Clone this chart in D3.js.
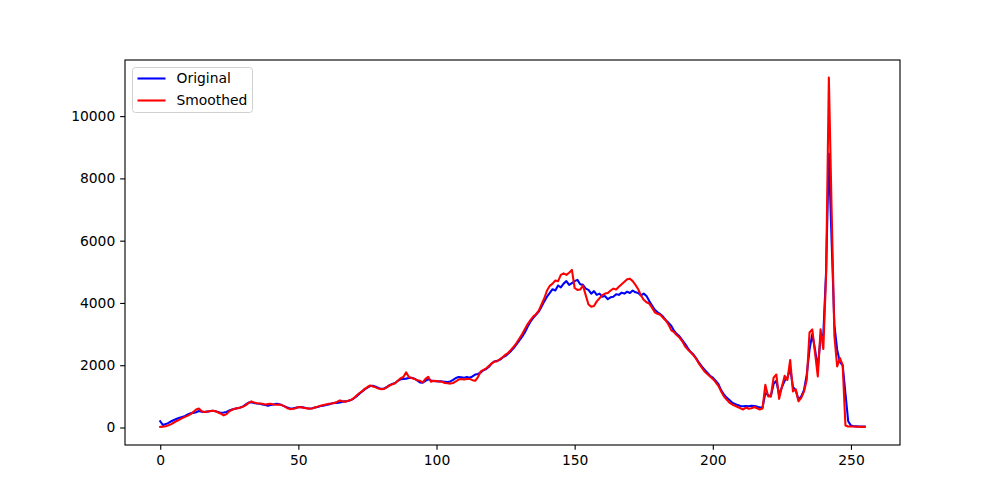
<!DOCTYPE html>
<html>
<head>
<meta charset="utf-8">
<script src="https://cdn.jsdelivr.net/npm/d3@7"></script>
<style>
  body { margin: 0; background: #fff; }
  svg { font-family: "DejaVu Sans", sans-serif; }
</style>
</head>
<body>
<div id="chart"></div>
<script>

// histogram values, one per bin 0..255
const original = [
  200, 80, 110, 150, 200, 240, 280, 310, 340, 370,
  420, 460, 470, 490, 530, 510, 500, 510, 520, 540,
  520, 500, 470, 480, 500, 550, 580, 600, 620, 640,
  680, 740, 800, 810, 790, 770, 760, 740, 720, 700,
  720, 740, 760, 750, 720, 680, 640, 610, 610, 630,
  650, 660, 640, 620, 610, 620, 640, 660, 690, 700,
  720, 740, 770, 790, 790, 800, 830, 840, 850, 880,
  930, 1000, 1080, 1150, 1220, 1280, 1330, 1340, 1310, 1270,
  1240, 1250, 1300, 1360, 1400, 1430, 1500, 1550, 1560, 1570,
  1590, 1600, 1570, 1510, 1450, 1440, 1500, 1550, 1510, 1490,
  1490, 1480, 1480, 1470, 1460, 1480, 1530, 1590, 1620, 1610,
  1600, 1620, 1600, 1640, 1700, 1720, 1770, 1840, 1880, 1950,
  2060, 2120, 2140, 2180, 2250, 2300, 2380, 2460, 2560, 2680,
  2800, 2920, 3060, 3240, 3400, 3520, 3620, 3720, 3880, 4050,
  4200, 4320, 4440, 4400, 4560, 4500, 4620, 4700, 4580, 4640,
  4700, 4740, 4600, 4580, 4460, 4420, 4300, 4380, 4260, 4300,
  4200, 4220, 4120, 4180, 4200, 4280, 4260, 4330, 4300, 4360,
  4320, 4400, 4340, 4320, 4240, 4300, 4220, 4060, 3920, 3780,
  3700, 3640, 3560, 3440, 3360, 3260, 3100, 3000, 2920, 2800,
  2680, 2540, 2420, 2340, 2220, 2080, 1960, 1860, 1760, 1660,
  1600, 1500, 1400, 1200, 1060, 960, 880, 800, 760, 720,
  690, 680, 690, 680, 700, 690, 670, 640, 650, 1100,
  1050, 1000, 1400, 1500, 1050, 1300, 1500, 1600, 1900, 1300,
  1200, 900, 1000, 1200, 1700, 2500, 3000, 2500, 1900, 2900,
  3000, 5000, 8800, 6000, 3300, 2500, 2100, 2000, 1100, 200,
  60, 40, 35, 30, 30, 30
];

const smoothed = [
  20, 25, 40, 70, 110, 160, 210, 255, 300, 340,
  380, 430, 500, 580, 610, 520, 500, 510, 530, 540,
  520, 480, 440, 390, 430, 520, 570, 600, 620, 640,
  670, 720, 790, 840, 800, 780, 770, 760, 740, 750,
  760, 740, 730, 740, 720, 680, 620, 590, 600, 620,
  660, 650, 630, 620, 600, 610, 640, 670, 700, 720,
  740, 760, 770, 790, 820, 870, 840, 830, 860, 880,
  940, 1020, 1100, 1160, 1240, 1300, 1350, 1320, 1290, 1250,
  1230, 1240, 1290, 1350, 1390, 1420, 1500, 1580, 1620, 1770,
  1620, 1590, 1560, 1520, 1500, 1450, 1560, 1630, 1470, 1500,
  1490, 1480, 1470, 1430, 1420, 1410, 1430, 1480, 1540, 1560,
  1540, 1560, 1560, 1520, 1500, 1620, 1800, 1850, 1900, 1980,
  2060, 2120, 2130, 2200, 2260, 2340, 2400, 2500, 2600, 2720,
  2860, 3000, 3160, 3320, 3450, 3560, 3640, 3750, 3950, 4150,
  4400, 4550, 4620, 4720, 4700, 4900, 4950, 4900, 4970, 5060,
  4480, 4420, 4430, 4560, 4250, 3950, 3880, 3900, 4050, 4150,
  4250, 4300, 4320, 4400, 4460, 4430, 4520, 4600, 4680, 4760,
  4780, 4700, 4580, 4440, 4240, 4100, 4020, 3980, 3850, 3700,
  3650, 3620, 3520, 3440, 3300, 3120, 3060, 2960, 2880, 2760,
  2600, 2500, 2420, 2320, 2200, 2050, 1920, 1800, 1720, 1640,
  1560, 1460, 1340, 1160, 1000, 900, 800, 740, 700, 660,
  620, 580, 640, 600, 620, 660, 620, 580, 610, 1370,
  1000, 1000, 1600, 1700, 920, 1300, 1660, 1530, 2170, 1160,
  1230, 840, 950, 1150, 1530, 3050, 3150, 2400, 1640, 3150,
  2520, 4900, 11240, 7000, 2950, 1960, 2230, 2000, 64, 30,
  30, 30, 25, 25, 20, 20
];

const seriesNames = ['Original', 'Smoothed'];
const seriesColors = ['#0000ff', '#ff0000'];
const xTicks = [0, 50, 100, 150, 200, 250];
const yTicks = [0, 2000, 4000, 6000, 8000, 10000];

const width = 1000, height = 500;
const margin = {top: 60, right: 100, bottom: 55, left: 125};
const w = width - margin.left - margin.right;
const h = height - margin.top - margin.bottom;
const pt = 100 / 72; // matplotlib points at 100 dpi
const fs = 10 * pt;

const svg = d3.select('#chart').append('svg')
    .attr('width', width)
    .attr('height', height);

const g = svg.append('g')
    .attr('transform', `translate(${margin.left},${margin.top})`);

// 5% padding on both axes, like matplotlib
const n = original.length;
const xPad = (n - 1) * 0.05;
const x = d3.scaleLinear()
    .domain([-xPad, n - 1 + xPad])
    .range([0, w]);

const yMax = d3.max(smoothed.concat(original));
const yPad = yMax * 0.05;
const y = d3.scaleLinear()
    .domain([-yPad, yMax + yPad])
    .range([h, 0]);

const line = d3.line()
    .x((d, i) => x(i))
    .y(d => y(d));

[original, smoothed].forEach((s, k) => {
  g.append('path')
      .datum(s)
      .attr('fill', 'none')
      .attr('stroke', seriesColors[k])
      .attr('stroke-width', 1.5 * pt)
      .attr('stroke-linejoin', 'round')
      .attr('stroke-linecap', 'square')
      .attr('d', line);
});

// axes
const xAxis = g.append('g')
    .attr('transform', `translate(0,${h})`)
    .call(d3.axisBottom(x).tickValues(xTicks).tickSize(3.5 * pt).tickPadding(3.5 * pt));
const yAxis = g.append('g')
    .call(d3.axisLeft(y).tickValues(yTicks).tickSize(3.5 * pt).tickPadding(3.5 * pt).tickFormat(d3.format('d')));

[xAxis, yAxis].forEach(a => {
  a.select('.domain').remove();
  a.selectAll('text').attr('font-size', fs).attr('font-family', '"DejaVu Sans", sans-serif').attr('fill', '#000');
  a.selectAll('line').attr('stroke', '#000').attr('stroke-width', 0.8 * pt);
});

// frame
g.append('rect')
    .attr('width', w)
    .attr('height', h)
    .attr('fill', 'none')
    .attr('stroke', '#000')
    .attr('stroke-width', 0.8 * pt);

// legend
const legend = g.append('g').attr('transform', 'translate(7.5,7.5)');
legend.append('rect')
    .attr('width', 120)
    .attr('height', 45)
    .attr('rx', 3)
    .attr('fill', '#fff')
    .attr('fill-opacity', 0.8)
    .attr('stroke', '#d0d0d0')
    .attr('stroke-width', 1);

seriesNames.forEach((name, k) => {
  const row = legend.append('g').attr('transform', `translate(0,${11 + k * 22})`);
  row.append('line')
      .attr('x1', 5).attr('x2', 33)
      .attr('stroke', seriesColors[k])
      .attr('stroke-width', 1.5 * pt);
  row.append('text')
      .attr('x', 44)
      .attr('dy', '0.35em')
      .attr('font-size', fs)
      .attr('fill', '#000')
      .text(name);
});

</script>
</body>
</html>
